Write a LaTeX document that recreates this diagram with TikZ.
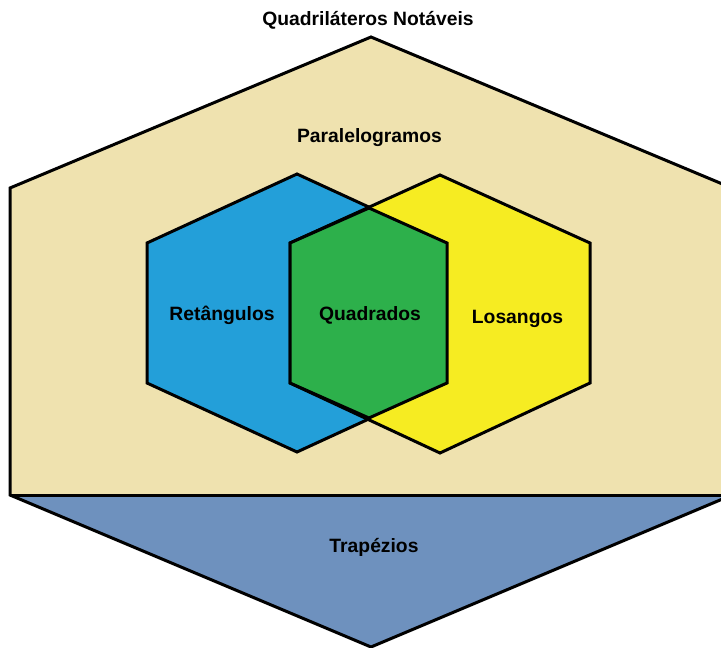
\documentclass[tikz,border=0pt]{standalone}
\usepackage{fontspec}
\setmainfont{Liberation Sans}
\definecolor{paraFill}{HTML}{EFE2AF}
\definecolor{trapFill}{HTML}{6E91BE}
\definecolor{retFill}{HTML}{239FD9}
\definecolor{losFill}{HTML}{F6EC22}
\definecolor{quadFill}{HTML}{2DB04B}
\begin{document}
\begin{tikzpicture}[x=1pt,y=-1pt,
  region/.style={draw=black,line width=3pt,line join=miter},
  label/.style={font=\fontsize{19.3}{23}\selectfont\bfseries,text=black,inner sep=0pt,anchor=base}]
\useasboundingbox (0,0) rectangle (721,648);
\clip (0,0) rectangle (721,648);
% outer hexagon: parallelograms on top, trapezia below
\fill[paraFill] (10,188) -- (371,37) -- (732,188) -- (732,495) -- (10,495) -- cycle;
\fill[trapFill] (10,495) -- (732,495) -- (371,647) -- cycle;
\draw[region] (371,37) -- (732,188) -- (732,495) -- (371,647) -- (10,495) -- (10,188) -- cycle;
\draw[region] (10,495) -- (732,495);
% rectangles and rhombi, overlapping in the squares
\draw[region,fill=retFill] (297,174) -- (447,243) -- (447,383) -- (297,452) -- (147,383) -- (147,243) -- cycle;
\draw[region,fill=losFill] (440,175) -- (590,243) -- (590,383) -- (440,453) -- (290,383) -- (290,243) -- cycle;
\draw[region,fill=quadFill] (369,208) -- (447,243) -- (447,383) -- (369,418) -- (290,383) -- (290,243) -- cycle;
% labels
\node[label] (title) at (368,25) {Quadriláteros Notáveis};
\node[label] (para) at (369.5,142) {Paralelogramos};
\node[label] (ret) at (222,320) {Retângulos};
\node[label] (quad) at (370,320) {Quadrados};
\node[label] (los) at (517.5,323) {Losangos};
\node[label] (trap) at (374,552) {Trapézios};
\end{tikzpicture}
\end{document}
